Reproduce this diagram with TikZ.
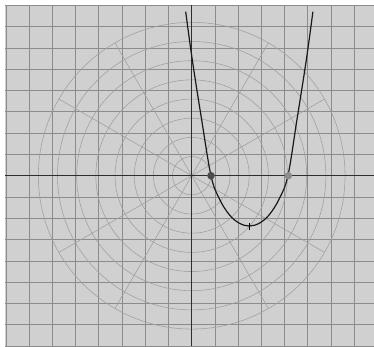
\documentclass[tikz,border=0pt]{standalone}
\usepackage{tikz}
\definecolor{panelgray}{gray}{0.815}
\definecolor{gridgray}{gray}{0.55}
\definecolor{ringgray}{gray}{0.62}
\definecolor{axisdark}{gray}{0.18}
\begin{document}
\begin{tikzpicture}[
    x=1pt, y=1pt,
    % Line and dot styles
    panel/.style={fill=panelgray, draw=none},
    gridline/.style={draw=gridgray, line width=0.8pt},
    ringline/.style={draw=ringgray, line width=0.55pt},
    axisline/.style={draw=axisdark, line width=1.3pt},
    curveline/.style={draw=black!90, line width=1.2pt, line join=round},
    rootdot/.style={circle, inner sep=0pt, minimum size=7.6pt, draw=none},
    ticklen/.style={draw=black, line width=1pt}
]

% 1. Frame and background
\useasboundingbox (-191.7,-170.3) rectangle (182.3,175.7);
\fill[panel] (-186.5,-170.3) rectangle (182.3,170.9);

% 2. Square grid
\foreach \k in {-8,...,7} \draw[gridline] (\k*23.2,-170.3) -- (\k*23.2,170.9);
\foreach \k in {-8,...,8} \draw[gridline] (-186.5,\k*21.3) -- (182.3,\k*21.3);

% 3. Polar rings and spokes
\foreach \k in {1,...,8} \draw[ringline] (0,0) circle (\k*19.17);
\foreach \a in {30,60,120,150,210,240,300,330} \draw[ringline] (0,0) -- (\a:153.3);

% 4. Axes
\coordinate (west)  at (-186.5,0);
\coordinate (east)  at (182.3,0);
\coordinate (south) at (0,-170.3);
\coordinate (north) at (0,170.9);
\draw[axisline] (west) -- (east);
\draw[axisline] (south) -- (north);

% 5. The curve
\draw[curveline] plot[smooth, tension=0.6] coordinates {
    (-6,164) (0.6,115.7) (10,55.7) (19.3,0) (27.6,-23) (37.6,-39)
    (47.6,-47.5) (57.6,-50.3) (67.6,-47.5) (77.6,-39) (87.6,-23)
    (96.2,0) (105.2,55.7) (114.6,115.7) (121.2,164)};

% 6. Roots and vertex mark
\node[rootdot, fill=black!70] (rootA) at (19.3,0) {};
\node[rootdot, fill=black!45] (rootB) at (96.6,0) {};
\coordinate (vertex) at (57.6,-50.3);
\draw[ticklen] ([yshift=3.5pt]vertex) -- ([yshift=-3.5pt]vertex);

\end{tikzpicture}
\end{document}
